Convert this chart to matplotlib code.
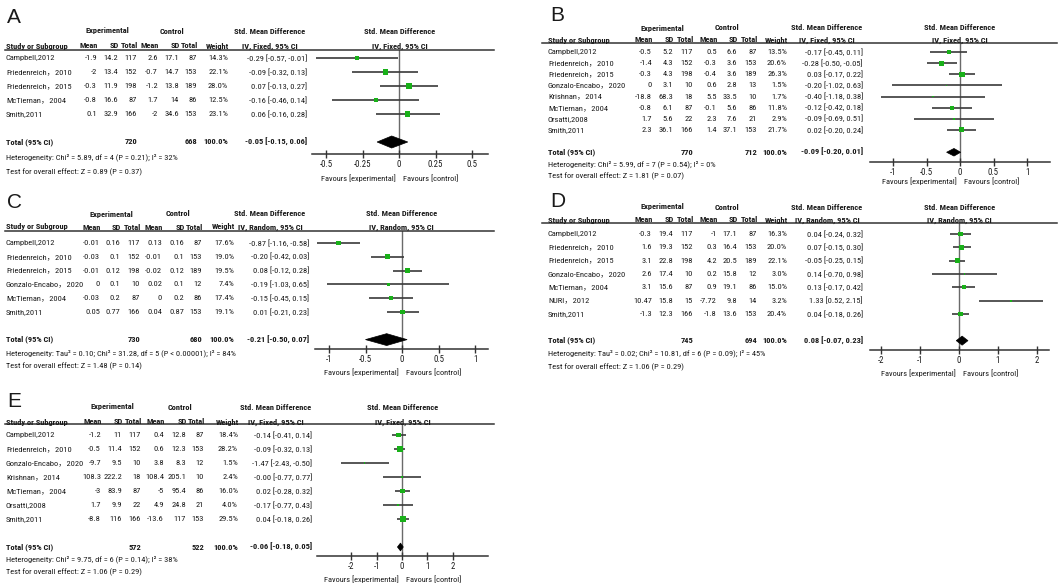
import numpy as np
import matplotlib
matplotlib.use("Agg")
import matplotlib.pyplot as plt
import matplotlib.transforms as mtransforms
from matplotlib import font_manager
from matplotlib.patches import Polygon
from matplotlib.lines import Line2D

W, H = 1059, 587


def pick_font(cands):
    for c in cands:
        try:
            font_manager.findfont(font_manager.FontProperties(family=c), fallback_to_default=False)
            return c
        except ValueError:
            pass
    return "Liberation Sans"


# narrow face if one is installed, otherwise Liberation Sans at a smaller size
font_sizes = {"Roboto Condensed": 6.0, "Liberation Sans Narrow": 6.0, "Liberation Sans": 5.2}
MAIN = pick_font(list(font_sizes))
FS = font_sizes[MAIN]
plt.rcParams['font.family'] = [MAIN, 'Noto Sans CJK SC', 'DejaVu Sans']
plt.rcParams['axes.unicode_minus'] = False

# ---------------- data ----------------
# A
a_name = ["Campbell,2012", "Friedenreich，2010", "Friedenreich，2015", "McTiernan，2004", "Smith,2011"]
a_e_mean = [-1.9, -2, -0.3, -0.8, 0.1]
a_e_sd = [14.2, 13.4, 11.9, 16.6, 32.9]
a_e_n = [117, 152, 198, 87, 166]
a_c_mean = [2.6, -0.7, -1.2, 1.7, -2]
a_c_sd = [17.1, 14.7, 13.8, 14, 34.6]
a_c_n = [87, 153, 189, 86, 153]
a_weight = [14.3, 22.1, 28.0, 12.5, 23.1]
a_smd = [-0.29, -0.09, 0.07, -0.16, 0.06]
a_lo = [-0.57, -0.32, -0.13, -0.46, -0.16]
a_hi = [-0.01, 0.13, 0.27, 0.14, 0.28]
a_total = [720, 668]
a_pooled = [-0.05, -0.15, 0.06]
a_het = "Heterogeneity: Chi² = 5.89, df = 4 (P = 0.21); I² = 32%"
a_test = "Test for overall effect: Z = 0.89 (P = 0.37)"
a_ticks = [-0.5, -0.25, 0, 0.25, 0.5]

# B
b_name = ["Campbell,2012", "Friedenreich，2010", "Friedenreich，2015", "Gonzalo-Encabo，2020",
          "Krishnan，2014", "McTiernan，2004", "Orsatti,2008", "Smith,2011"]
b_e_mean = [-0.5, -1.4, -0.3, 0, -18.8, -0.8, 1.7, 2.3]
b_e_sd = [5.2, 4.3, 4.3, 3.1, 68.3, 6.1, 5.6, 36.1]
b_e_n = [117, 152, 198, 10, 18, 87, 22, 166]
b_c_mean = [0.5, -0.3, -0.4, 0.6, 5.5, -0.1, 2.3, 1.4]
b_c_sd = [6.6, 3.6, 3.6, 2.8, 33.5, 5.6, 7.6, 37.1]
b_c_n = [87, 153, 189, 13, 10, 86, 21, 153]
b_weight = [13.5, 20.6, 26.3, 1.5, 1.7, 11.8, 2.9, 21.7]
b_smd = [-0.17, -0.28, 0.03, -0.20, -0.40, -0.12, -0.09, 0.02]
b_lo = [-0.45, -0.50, -0.17, -1.02, -1.18, -0.42, -0.69, -0.20]
b_hi = [0.11, -0.05, 0.22, 0.63, 0.38, 0.18, 0.51, 0.24]
b_total = [770, 712]
b_pooled = [-0.09, -0.20, 0.01]
b_het = "Heterogeneity: Chi² = 5.99, df = 7 (P = 0.54); I² = 0%"
b_test = "Test for overall effect: Z = 1.81 (P = 0.07)"
b_ticks = [-1, -0.5, 0, 0.5, 1]

# C
c_name = ["Campbell,2012", "Friedenreich，2010", "Friedenreich，2015", "Gonzalo-Encabo，2020",
          "McTiernan，2004", "Smith,2011"]
c_e_mean = [-0.01, -0.03, -0.01, 0, -0.03, 0.05]
c_e_sd = [0.16, 0.1, 0.12, 0.1, 0.2, 0.77]
c_e_n = [117, 152, 198, 10, 87, 166]
c_c_mean = [0.13, -0.01, -0.02, 0.02, 0, 0.04]
c_c_sd = [0.16, 0.1, 0.12, 0.1, 0.2, 0.87]
c_c_n = [87, 153, 189, 12, 86, 153]
c_weight = [17.6, 19.0, 19.5, 7.4, 17.4, 19.1]
c_smd = [-0.87, -0.20, 0.08, -0.19, -0.15, 0.01]
c_lo = [-1.16, -0.42, -0.12, -1.03, -0.45, -0.21]
c_hi = [-0.58, 0.03, 0.28, 0.65, 0.15, 0.23]
c_total = [730, 680]
c_pooled = [-0.21, -0.50, 0.07]
c_het = "Heterogeneity: Tau² = 0.10; Chi² = 31.28, df = 5 (P < 0.00001); I² = 84%"
c_test = "Test for overall effect: Z = 1.48 (P = 0.14)"
c_ticks = [-1, -0.5, 0, 0.5, 1]

# D
d_name = ["Campbell,2012", "Friedenreich，2010", "Friedenreich，2015", "Gonzalo-Encabo，2020",
          "McTiernan，2004", "NURI，2012", "Smith,2011"]
d_e_mean = [-0.3, 1.6, 3.1, 2.6, 3.1, 10.47, -1.3]
d_e_sd = [19.4, 19.3, 22.8, 17.4, 15.6, 15.8, 12.3]
d_e_n = [117, 152, 198, 10, 87, 15, 166]
d_c_mean = [-1, 0.3, 4.2, 0.2, 0.9, -7.72, -1.8]
d_c_sd = [17.1, 16.4, 20.5, 15.8, 19.1, 9.8, 13.6]
d_c_n = [87, 153, 189, 12, 86, 14, 153]
d_weight = [16.3, 20.0, 22.1, 3.0, 15.0, 3.2, 20.4]
d_smd = [0.04, 0.07, -0.05, 0.14, 0.13, 1.33, 0.04]
d_lo = [-0.24, -0.15, -0.25, -0.70, -0.17, 0.52, -0.18]
d_hi = [0.32, 0.30, 0.15, 0.98, 0.42, 2.15, 0.26]
d_total = [745, 694]
d_pooled = [0.08, -0.07, 0.23]
d_het = "Heterogeneity: Tau² = 0.02; Chi² = 10.81, df = 6 (P = 0.09); I² = 45%"
d_test = "Test for overall effect: Z = 1.06 (P = 0.29)"
d_ticks = [-2, -1, 0, 1, 2]

# E
e_name = ["Campbell,2012", "Friedenreich，2010", "Gonzalo-Encabo，2020", "Krishnan，2014",
          "McTiernan，2004", "Orsatti,2008", "Smith,2011"]
e_e_mean = [-1.2, -0.5, -9.7, 108.3, -3, 1.7, -8.8]
e_e_sd = [11, 11.4, 9.5, 222.2, 83.9, 9.9, 116]
e_e_n = [117, 152, 10, 18, 87, 22, 166]
e_c_mean = [0.4, 0.6, 3.8, 108.4, -5, 4.9, -13.6]
e_c_sd = [12.8, 12.3, 8.3, 205.1, 95.4, 24.8, 117]
e_c_n = [87, 153, 12, 10, 86, 21, 153]
e_weight = [18.4, 28.2, 1.5, 2.4, 16.0, 4.0, 29.5]
e_smd = [-0.14, -0.09, -1.47, -0.0, 0.02, -0.17, 0.04]
e_lo = [-0.41, -0.32, -2.43, -0.77, -0.28, -0.77, -0.18]
e_hi = [0.14, 0.13, -0.50, 0.77, 0.32, 0.43, 0.26]
e_total = [572, 522]
e_pooled = [-0.06, -0.18, 0.05]
e_het = "Heterogeneity: Chi² = 9.75, df = 6 (P = 0.14); I² = 38%"
e_test = "Test for overall effect: Z = 1.06 (P = 0.29)"
e_ticks = [-2, -1, 0, 1, 2]

# ---------------- layout (pixels from top-left) ----------------
a_cols = dict(name=6, e_mean=97, e_sd=118, e_n=137, c_mean=158, c_sd=179, c_n=197, weight=228)
c_cols = dict(name=6, e_mean=100, e_sd=120, e_n=140, c_mean=162, c_sd=184, c_n=202, weight=234)
e_cols = dict(name=6, e_mean=101, e_sd=122, e_n=141, c_mean=164, c_sd=186, c_n=204, weight=238)
r_cols = dict(name=548, e_mean=652, e_sd=673, e_n=693, c_mean=717, c_sd=737, c_n=757, weight=787)

lay_a = dict(letter="A", lx=7, ly=23, h1=31, h2=46, line=50, lx0=5, lx1=494, row0=58, step=14.0,
             het=157, test=172, cols=a_cols, exp_c=107, ctl_c=172, ci_r=307, smd_c=270,
             ax_x=(312, 488), zero=399, scale=146, ax_y=154, fav=178, dh=0.43, method="Fixed")
lay_b = dict(letter="B", lx=550, ly=21, h1=28, h2=40, line=43, lx0=542, lx1=1057, row0=52, step=11.14,
             het=164, test=176, cols=r_cols, exp_c=662, ctl_c=727, ci_r=863, smd_c=827,
             ax_x=(870, 1050), zero=960, scale=67, ax_y=162, fav=181, dh=0.34, method="Fixed")
lay_c = dict(letter="C", lx=7, ly=208, h1=214, h2=227, line=231, lx0=5, lx1=494, row0=243, step=13.8,
             het=353, test=366, cols=c_cols, exp_c=111, ctl_c=178, ci_r=309, smd_c=270,
             ax_x=(315, 488), zero=402, scale=73, ax_y=349, fav=372, dh=0.43, method="Random")
lay_d = dict(letter="D", lx=550, ly=207, h1=207, h2=220, line=223, lx0=542, lx1=1057, row0=234, step=13.33,
             het=353, test=367, cols=r_cols, exp_c=662, ctl_c=727, ci_r=863, smd_c=827,
             ax_x=(870, 1049), zero=959, scale=39, ax_y=350, fav=373, dh=0.34, method="Random")
lay_e = dict(letter="E", lx=7, ly=407, h1=407, h2=422, line=424, lx0=5, lx1=494, row0=435, step=14.0,
             het=559, test=572, cols=e_cols, exp_c=112, ctl_c=180, ci_r=312, smd_c=276,
             ax_x=(317, 488), zero=402, scale=25.3, ax_y=556, fav=579, dh=0.28, method="Fixed")

TXT = "#1a1a1a"
GREEN = "#19b019"

fig = plt.figure(figsize=(W / 100, H / 100), dpi=100, facecolor="white")
px = mtransforms.Affine2D().scale(1 / W, -1 / H).translate(0, 1) + fig.transFigure


def fmt(v):
    return "%g" % v


def panel(lay, name, e_mean, e_sd, e_n, c_mean, c_sd, c_n, weight, smd, lo, hi, total, pooled, het, test, ticks):
    x0, x1 = lay["ax_x"]
    ax = fig.add_axes([x0 / W, 1 - lay["ax_y"] / H, (x1 - x0) / W, (lay["ax_y"] - lay["line"]) / H])
    ax.set_xlim((x0 - lay["zero"]) / lay["scale"], (x1 - lay["zero"]) / lay["scale"])
    ax.set_ylim((lay["ax_y"] - lay["row0"]) / lay["step"], (lay["line"] - lay["row0"]) / lay["step"])
    ax.patch.set_alpha(0)
    for s in ["top", "left", "right"]:
        ax.spines[s].set_visible(False)
    ax.spines["bottom"].set_color("#333333")
    ax.spines["bottom"].set_linewidth(1.1)
    ax.set_yticks([])
    ax.set_xticks(ticks)
    ax.set_xticklabels([fmt(t) for t in ticks])
    ax.tick_params(axis="x", direction="inout", length=6, width=1, color="#333333",
                   labelsize=FS + 0.3, labelcolor=TXT, pad=1)
    ax.axvline(0, color="#6a6a6a", lw=1.0, zorder=1)

    n = len(name)
    rows = np.arange(n)
    ax.hlines(rows, lo, hi, color="#3a3a3a", lw=1.2, zorder=2)
    ax.scatter(smd, rows, marker="s", s=np.array(weight) * 0.6, color=GREEN, zorder=3, linewidths=0)
    ty = n + 1
    p, plo, phi = pooled
    dh = lay["dh"]
    ax.add_patch(Polygon([[plo, ty], [p, ty - dh], [phi, ty], [p, ty + dh]], closed=True,
                         facecolor="black", edgecolor="black", lw=0.5, zorder=3))

    row_tr = mtransforms.blended_transform_factory(px, ax.transData)
    cols = lay["cols"]

    def rt(x, y, s, ha="right", bold=False):
        fig.text(x, y, s, transform=row_tr, ha=ha, va="center", fontsize=FS, color=TXT,
                 fontweight="bold" if bold else "normal")

    def pt(x, y, s, ha="center", bold=False):
        fig.text(x, y, s, transform=px, ha=ha, va="center", fontsize=FS, color=TXT,
                 fontweight="bold" if bold else "normal")

    for i in range(n):
        rt(cols["name"], i, name[i], ha="left")
        rt(cols["e_mean"], i, fmt(e_mean[i]))
        rt(cols["e_sd"], i, fmt(e_sd[i]))
        rt(cols["e_n"], i, fmt(e_n[i]))
        rt(cols["c_mean"], i, fmt(c_mean[i]))
        rt(cols["c_sd"], i, fmt(c_sd[i]))
        rt(cols["c_n"], i, fmt(c_n[i]))
        rt(cols["weight"], i, "%.1f%%" % weight[i])
        rt(lay["ci_r"], i, "%.2f [%.2f, %.2f]" % (smd[i], lo[i], hi[i]))

    rt(cols["name"], ty, "Total (95% CI)", ha="left", bold=True)
    rt(cols["e_n"], ty, fmt(total[0]), bold=True)
    rt(cols["c_n"], ty, fmt(total[1]), bold=True)
    rt(cols["weight"], ty, "100.0%", bold=True)
    rt(lay["ci_r"], ty, "%.2f [%.2f, %.2f]" % (p, plo, phi), bold=True)

    # headers
    fig.text(lay["lx"], lay["ly"], lay["letter"], transform=px, ha="left", va="baseline",
             fontsize=15, color=TXT, family=["Liberation Sans", "DejaVu Sans"])
    pt(lay["exp_c"], lay["h1"], "Experimental", bold=True)
    pt(lay["ctl_c"], lay["h1"], "Control", bold=True)
    pt(lay["smd_c"], lay["h1"], "Std. Mean Difference", bold=True)
    pt((x0 + x1) / 2, lay["h1"], "Std. Mean Difference", bold=True)
    pt(cols["name"], lay["h2"], "Study or Subgroup", ha="left", bold=True)
    for key, lab in [("e_mean", "Mean"), ("e_sd", "SD"), ("e_n", "Total"), ("c_mean", "Mean"),
                     ("c_sd", "SD"), ("c_n", "Total"), ("weight", "Weight")]:
        pt(cols[key] + 1, lay["h2"], lab, ha="right", bold=True)
    ivlab = "IV, %s, 95%% CI" % lay["method"]
    pt(lay["smd_c"], lay["h2"], ivlab, bold=True)
    pt((x0 + x1) / 2, lay["h2"], ivlab, bold=True)
    fig.add_artist(Line2D([lay["lx0"], lay["lx1"]], [lay["line"], lay["line"]], transform=px,
                          color="#333333", lw=1.1))

    pt(cols["name"], lay["het"], het, ha="left")
    pt(cols["name"], lay["test"], test, ha="left")
    pt(lay["zero"] - 3, lay["fav"], "Favours [experimental]", ha="right")
    pt(lay["zero"] + 4, lay["fav"], "Favours [control]", ha="left")


panel(lay_a, a_name, a_e_mean, a_e_sd, a_e_n, a_c_mean, a_c_sd, a_c_n, a_weight, a_smd, a_lo, a_hi,
      a_total, a_pooled, a_het, a_test, a_ticks)
panel(lay_b, b_name, b_e_mean, b_e_sd, b_e_n, b_c_mean, b_c_sd, b_c_n, b_weight, b_smd, b_lo, b_hi,
      b_total, b_pooled, b_het, b_test, b_ticks)
panel(lay_c, c_name, c_e_mean, c_e_sd, c_e_n, c_c_mean, c_c_sd, c_c_n, c_weight, c_smd, c_lo, c_hi,
      c_total, c_pooled, c_het, c_test, c_ticks)
panel(lay_d, d_name, d_e_mean, d_e_sd, d_e_n, d_c_mean, d_c_sd, d_c_n, d_weight, d_smd, d_lo, d_hi,
      d_total, d_pooled, d_het, d_test, d_ticks)
panel(lay_e, e_name, e_e_mean, e_e_sd, e_e_n, e_c_mean, e_c_sd, e_c_n, e_weight, e_smd, e_lo, e_hi,
      e_total, e_pooled, e_het, e_test, e_ticks)

fig.savefig("out.png", dpi=100, facecolor="white")
